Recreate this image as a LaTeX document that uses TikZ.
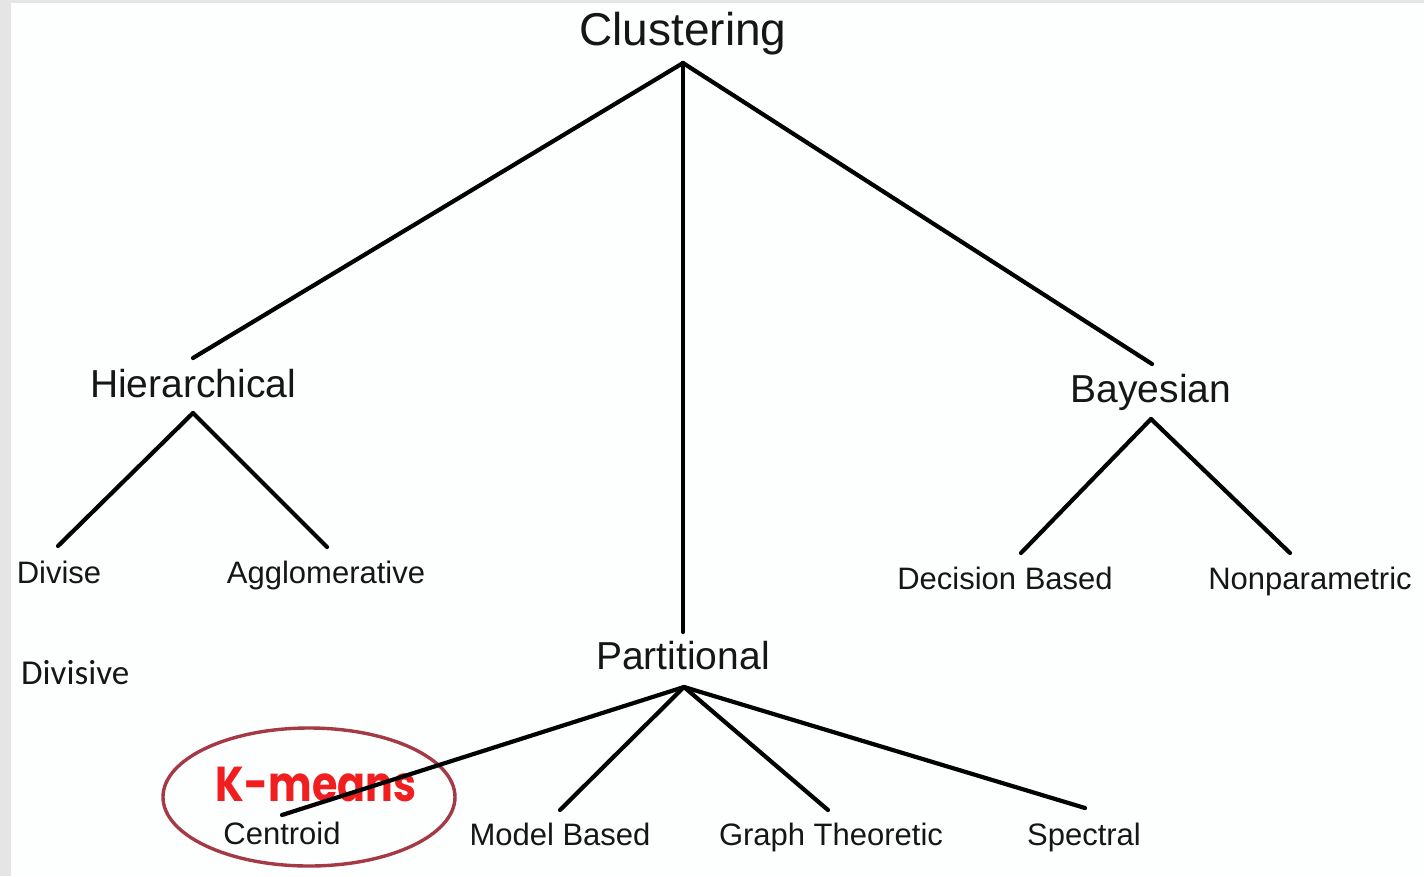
\documentclass[tikz,border=0pt]{standalone}
\usepackage{fontspec}
\setmainfont{Liberation Sans}
\newfontfamily\calfont{Carlito}
\newfontfamily\kfont{Poppins Bold}
\definecolor{txt}{HTML}{161616}
\definecolor{frame}{HTML}{E5E5E5}
\definecolor{paper}{HTML}{FDFEFE}
\definecolor{ring}{HTML}{A33A45}
\definecolor{kred}{HTML}{F01E1E}
\tikzset{
  lbl/.style={anchor=base, inner sep=0pt, text=txt},
  big/.style={lbl, font=\fontsize{46}{50}\selectfont},
  mid/.style={lbl, font=\fontsize{39}{44}\selectfont},
  small/.style={lbl, font=\fontsize{31}{36}\selectfont},
  edge/.style={draw=black, line width=4.2pt, line cap=round}
}
\begin{document}
\begin{tikzpicture}[x=1pt,y=-1pt]
\useasboundingbox (0,0) rectangle (1424,876);
\fill[frame] (0,0) rectangle (1424,876);
\fill[paper] (11,3) rectangle (1424,876);

% labels
\node[big] (clust) at (683,45) {Clustering};
\node[mid] (hier) at (193,397) {Hierarchical};
\node[mid] (bayes) at (1151,402) {Bayesian};
\node[mid] (part) at (683,669) {Partitional};
\node[small] (divise) at (59,583) {Divise};
\node[small] (agglo) at (326,583) {Agglomerative};
\node[small] (decis) at (1005,589) {Decision Based};
\node[small] (nonpar) at (1310,589) {Nonparametric};
\node[small] (centr) at (282,844) {Centroid};
\node[small] (model) at (560,845) {Model Based};
\node[small] (graph) at (831,845) {Graph Theoretic};
\node[small] (spec) at (1084,845) {Spectral};
\node[anchor=base west, inner sep=0pt, text=txt, font=\calfont\fontsize{35}{39}\selectfont] (divisive) at (21,684) {Divisive};

% highlight
\draw[ring, line width=3.4pt] (309,797) ellipse [x radius=146pt, y radius=69pt];
\node[anchor=base, inner sep=0pt, text=kred, xscale=0.84, font=\kfont\fontsize{49}{52}\selectfont] (kmeans) at (316,801) {K-means};

% connector end points
\coordinate (clustB) at ([yshift=-18pt]clust.base);
\coordinate (hierT) at ([yshift=39pt]hier.base);
\coordinate (hierB) at ([yshift=-16pt]hier.base);
\coordinate (bayesT) at ([xshift=1pt,yshift=38pt]bayes.base);
\coordinate (bayesB) at ([yshift=-17pt]bayes.base);
\coordinate (partT) at ([yshift=37pt]part.base);
\coordinate (partB) at ([xshift=1pt,yshift=-18pt]part.base);
\coordinate (diviseT) at ([xshift=-1pt,yshift=37pt]divise.base);
\coordinate (aggloT) at ([xshift=1pt,yshift=36pt]agglo.base);
\coordinate (decisT) at ([xshift=16pt,yshift=36pt]decis.base);
\coordinate (nonparT) at ([xshift=-20pt,yshift=36pt]nonpar.base);
\coordinate (centrT) at ([yshift=29pt]centr.base);
\coordinate (modelT) at ([yshift=35pt]model.base);
\coordinate (graphT) at ([xshift=-3pt,yshift=35pt]graph.base);
\coordinate (specT) at ([xshift=1pt,yshift=37pt]spec.base);

% connectors
\draw[edge] (clustB) -- (hierT);
\draw[edge] (clustB) -- (partT);
\draw[edge] (clustB) -- (bayesT);
\draw[edge] (hierB) -- (diviseT);
\draw[edge] (hierB) -- (aggloT);
\draw[edge] (bayesB) -- (decisT);
\draw[edge] (bayesB) -- (nonparT);
\draw[edge] (partB) -- (centrT);
\draw[edge] (partB) -- (modelT);
\draw[edge] (partB) -- (graphT);
\draw[edge] (partB) -- (specT);
\end{tikzpicture}
\end{document}
